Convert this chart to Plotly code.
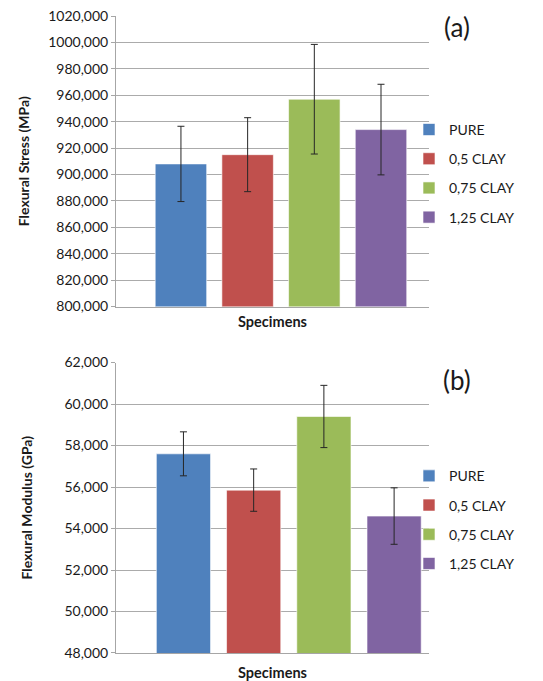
import plotly.graph_objects as go
from plotly.subplots import make_subplots

categories = ["PURE", "0,5 CLAY", "0,75 CLAY", "1,25 CLAY"]
colors = ["#4F81BD", "#C0504D", "#9BBB59", "#8064A2"]

stress = [908, 915, 957, 934]
stress_err = [28.5, 28, 41.5, 34.3]
modulus = [57.6, 55.85, 59.4, 54.6]
modulus_err = [1.06, 1.02, 1.5, 1.36]

stress_ticks = list(range(800, 1021, 20))
modulus_ticks = list(range(48, 63, 2))

FONT = "Lato"

fig = make_subplots(rows=2, cols=1)

for i, name in enumerate(categories):
    fig.add_trace(go.Bar(
        x=["Specimens"], y=[stress[i]], name=name,
        marker=dict(color=colors[i], line=dict(color="rgba(255,255,255,0.6)", width=1)),
        error_y=dict(type="data", array=[stress_err[i]], color="#262626", thickness=1, width=3.5),
        legend="legend", legendgroup="a" + str(i),
    ), row=1, col=1)
for i, name in enumerate(categories):
    fig.add_trace(go.Bar(
        x=["Specimens"], y=[modulus[i]], name=name,
        marker=dict(color=colors[i], line=dict(color="rgba(255,255,255,0.6)", width=1)),
        error_y=dict(type="data", array=[modulus_err[i]], color="#262626", thickness=1, width=3.5),
        legend="legend2", legendgroup="b" + str(i),
    ), row=2, col=1)

# page has an 8px body margin, so figure coordinates = page coordinates - 8
OFF = 8
W, H = 543 - OFF, 681 - OFF
L, R, T, B = 116 - OFF, 114, 16 - OFF, 27.7
ph = H - T - B
pw = W - L - R
def py(page_y):
    return (H - B - (page_y - OFF)) / ph
def px(page_x):
    return ((page_x - OFF) - L) / pw

axis_common = dict(showline=True, linecolor="#a6a6a6", linewidth=1,
                   gridcolor="#ababab", gridwidth=1, ticks="outside",
                   ticklen=4, tickcolor="#a6a6a6", automargin=False,
                   ticklabeloverflow="allow",
                   tickfont=dict(family=FONT, size=14, color="#1a1a1a"))
xaxis_common = dict(domain=[0, 1], showticklabels=False, showline=True,
                    linecolor="#a6a6a6", ticks="", automargin=False)

fig.update_layout(
    width=W, height=H,
    margin=dict(l=L, r=R, t=T, b=B),
    paper_bgcolor="white", plot_bgcolor="white",
    barmode="group", bargap=0.1026, bargroupgap=0.228,
    font=dict(family=FONT, color="#1a1a1a"),
    xaxis=dict(range=[-0.555, 0.498],
               title=dict(text="<b>Specimens</b>", font=dict(family=FONT, size=14.5), standoff=10),
               **xaxis_common),
    xaxis2=dict(range=[-0.552, 0.448],
                title=dict(text="<b>Specimens</b>", font=dict(family=FONT, size=14.5), standoff=14),
                **xaxis_common),
    yaxis=dict(domain=[py(306.7), 1.0], range=[800, 1020],
               tickvals=stress_ticks, ticktext=[f"{v},000" for v in stress_ticks],
               title=dict(text="<b>Flexural Stress (MPa)</b>", font=dict(family=FONT, size=14), standoff=15),
               **axis_common),
    yaxis2=dict(domain=[0, py(362.7)], range=[48, 62],
                tickvals=modulus_ticks, ticktext=[f"{v},000" for v in modulus_ticks],
                title=dict(text="<b>Flexural Modulus (GPa)</b>", font=dict(family=FONT, size=14), standoff=28),
                **axis_common),
    legend=dict(x=px(409), xref="paper", y=py(173.5), yanchor="middle",
                font=dict(family=FONT, size=14, color="#1a1a1a"), tracegroupgap=8,
                bgcolor="rgba(0,0,0,0)"),
    legend2=dict(x=px(409), xref="paper", y=py(520), yanchor="middle",
                 font=dict(family=FONT, size=14, color="#1a1a1a"), tracegroupgap=8,
                 bgcolor="rgba(0,0,0,0)"),
    annotations=[
        dict(text="(a)", x=px(457), y=py(27), xref="paper", yref="paper",
             xanchor="center", yanchor="middle",
             showarrow=False, font=dict(family=FONT, size=26, color="#1a1a1a")),
        dict(text="(b)", x=px(457), y=py(380), xref="paper", yref="paper",
             xanchor="center", yanchor="middle",
             showarrow=False, font=dict(family=FONT, size=26, color="#1a1a1a")),
    ],
)

fig.write_html("out.html")
